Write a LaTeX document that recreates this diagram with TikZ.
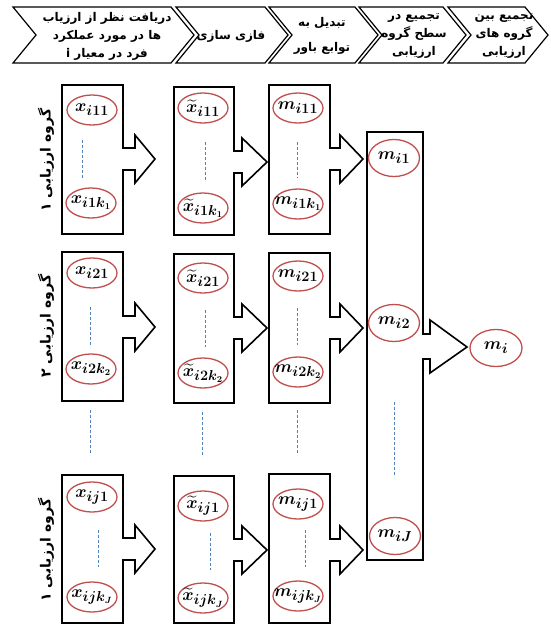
\documentclass[tikz,border=0pt]{standalone}
\usepackage{amsmath}
\usepackage{bm}
\usepackage{fontspec}
\newfontfamily\arabicfont[Script=Arabic]{DejaVu Sans}
\TeXXeTstate=1
\usetikzlibrary{shapes.geometric}
\definecolor{ovalred}{HTML}{C0504D}
\definecolor{dashblue}{HTML}{4F81BD}
\newcommand\chevshape[2]{\draw[chev] (#1,7) -- (#2,7) -- (#2+23,35) -- (#2,63) -- (#1,63) -- (#1+23,35) -- cycle;}
\newcommand\arrowbox[7]{\draw[frame] (#1,#2) -- (#3,#2) -- (#3,#5-11) -- (#3+#6,#5-11) -- (#3+#6,#5-24) -- (#7,#5) -- (#3+#6,#5+24) -- (#3+#6,#5+11) -- (#3,#5+11) -- (#3,#4) -- (#1,#4) -- cycle;}
\newcommand\mlab[1]{\makebox[0pt]{$\bm{#1}$}}
\begin{document}
\begin{tikzpicture}[x=1pt,y=-1pt,
  frame/.style={draw=black,line width=1.6pt,line join=miter},
  chev/.style={draw=black,line width=1.2pt,line join=miter},
  oval/.style={ellipse,draw=ovalred,line width=1.3pt,minimum width=50pt,minimum height=30pt,inner sep=0pt,font=\fontsize{19}{21}\selectfont},
  bigoval/.style={oval,minimum width=51pt,minimum height=37pt},
  dots/.style={draw=dashblue,dashed,line width=0.6pt,dash pattern=on 3pt off 2pt},
  chevtxt/.style={font=\arabicfont\bfseries\fontsize{12}{18}\selectfont,align=center,inner sep=0pt},
  grp/.style={rotate=90,font=\arabicfont\bfseries\fontsize{14}{16}\selectfont,inner sep=0pt}]
\useasboundingbox (0,0) rectangle (550,625);
% header chevrons
\chevshape{13}{171}
\chevshape{176}{265}
\chevshape{269}{355}
\chevshape{359}{443}
\chevshape{448}{525}
\node[chevtxt] (h1) at (107,36) {\beginR دریافت نظر از ارزیاب\endR\\\beginR ها در مورد عملکرد\endR\\\beginR فرد در معیار \beginL i\endL\endR};
\node[chevtxt] (h2) at (231,36) {\beginR فازی سازی\endR};
\node[chevtxt,font=\arabicfont\bfseries\fontsize{12}{25}\selectfont] (h3) at (322,36) {\beginR تبدیل به\endR\\\beginR توابع باور\endR};
\node[chevtxt] (h4) at (414,36) {\beginR تجمیع در\endR\\\beginR سطح گروه\endR\\\beginR ارزیابی\endR};
\node[chevtxt] (h5) at (504,36) {\beginR تجمیع بین\endR\\\beginR گروه های\endR\\\beginR ارزیابی\endR};
% group labels
\node[grp] (g1) at (46,160) {\beginR گروه ارزیابی ۱\endR};
\node[grp] (g2) at (46,326) {\beginR گروه ارزیابی ۲\endR};
\node[grp] (g3) at (46,550) {\beginR گروه ارزیابی ۱\endR};
% column 1 boxes
\arrowbox{62}{85}{123}{234}{159}{12}{155}
\arrowbox{62}{252}{123}{401}{327}{12}{155}
\arrowbox{62}{475}{123}{623}{549}{12}{155}
% column 2 boxes
\arrowbox{174}{87}{234}{235}{162}{8}{267}
\arrowbox{174}{254}{234}{403}{328}{8}{267}
\arrowbox{174}{476}{234}{623}{550}{8}{267}
% column 3 boxes
\arrowbox{269}{85}{330}{234}{159}{10}{363}
\arrowbox{269}{253}{330}{403}{328}{10}{363}
\arrowbox{269}{474}{330}{623}{550}{10}{363}
% column 4 big box
\draw[frame] (367,132) -- (423,132) -- (423,334) -- (430,334) -- (430,320) -- (467,347) -- (430,373) -- (430,359) -- (423,359) -- (423,560) -- (367,560) -- cycle;
% column 1 ovals
\node[oval] (x11) at (92,110) {\mlab{x_{i11}}};
\node[oval] (x1k) at (91,203) {\mlab{x_{i1k_1}}};
\node[oval] (x21) at (92,273) {\mlab{x_{i21}}};
\node[oval] (x2k) at (91,369) {\mlab{x_{i2k_2}}};
\node[oval] (xJ1) at (92,497) {\mlab{x_{ij1}}};
\node[oval] (xJk) at (92,597) {\mlab{x_{ijk_J}}};
% column 2 ovals
\node[oval] (f11) at (203,108) {\mlab{\widetilde{x}_{i11}}};
\node[oval] (f1k) at (203,208) {\mlab{\widetilde{x}_{i1k_1}}};
\node[oval] (f21) at (203,278) {\mlab{\widetilde{x}_{i21}}};
\node[oval] (f2k) at (203,373) {\mlab{\widetilde{x}_{i2k_2}}};
\node[oval] (fJ1) at (203,506) {\mlab{\widetilde{x}_{ij1}}};
\node[oval] (fJk) at (203,598) {\mlab{\widetilde{x}_{ijk_J}}};
% column 3 ovals
\node[oval] (m11) at (298,108) {\mlab{m_{i11}}};
\node[oval] (m1k) at (298,204) {\mlab{m_{i1k_1}}};
\node[oval] (m21) at (298,276) {\mlab{m_{i21}}};
\node[oval] (m2k) at (298,372) {\mlab{m_{i2k_2}}};
\node[oval] (mJ1) at (298,504) {\mlab{m_{ij1}}};
\node[oval] (mJk) at (298,596) {\mlab{m_{ijk_J}}};
% column 4 ovals
\node[bigoval] (g1m) at (394,158) {\mlab{m_{i1}}};
\node[bigoval] (g2m) at (394,323) {\mlab{m_{i2}}};
\node[bigoval] (gJm) at (395,536) {\mlab{m_{iJ}}};
\node[bigoval,minimum width=52pt] (mi) at (496,348) {\mlab{m_{i}}};
% dashed ellipsis lines
\draw[dots] (82,140) -- (82,178);
\draw[dots] (90,307) -- (90,345);
\draw[dots] (90,410) -- (90,455);
\draw[dots] (98,530) -- (98,567);
\draw[dots] (205,142) -- (205,180);
\draw[dots] (205,310) -- (205,347);
\draw[dots] (202,412) -- (202,457);
\draw[dots] (210,533) -- (210,570);
\draw[dots] (297,142) -- (297,178);
\draw[dots] (297,308) -- (297,345);
\draw[dots] (297,410) -- (297,455);
\draw[dots] (305,530) -- (305,567);
\draw[dots] (394,402) -- (394,475);
\end{tikzpicture}
\end{document}
